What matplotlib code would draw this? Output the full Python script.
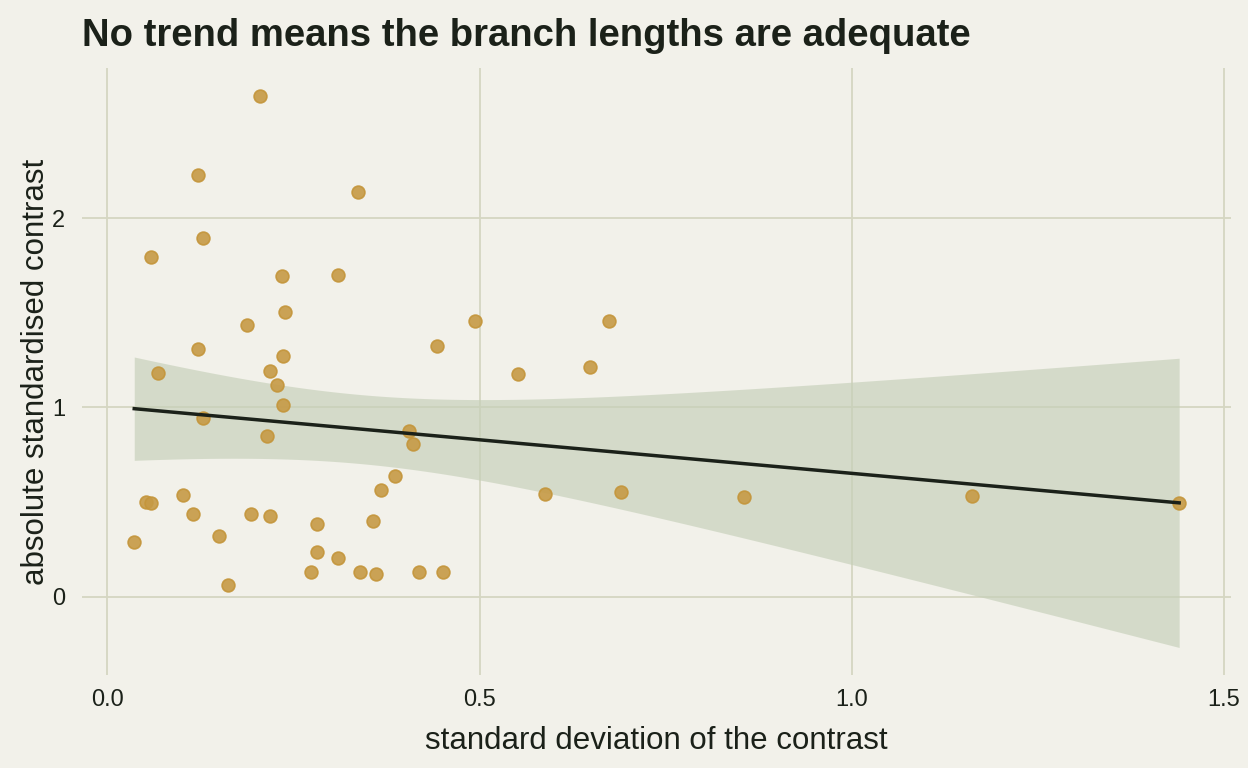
import matplotlib
matplotlib.use("Agg")
import matplotlib.pyplot as plt
import numpy as np

# data
sd_contrast = [0.205, 0.121, 0.337, 0.129, 0.059, 0.235, 0.310, 0.239, 0.494, 0.674,
               0.188, 0.443, 0.121, 0.236, 0.649, 0.068, 0.219, 0.551, 0.228, 0.236,
               0.129, 0.405, 0.215, 0.411, 0.386, 0.368, 0.588, 0.690, 0.855, 1.161,
               1.440, 0.102, 0.052, 0.058, 0.115, 0.193, 0.219, 0.282, 0.357, 0.150,
               0.036, 0.282, 0.310, 0.274, 0.339, 0.361, 0.419, 0.451, 0.162]
abs_contrast = [2.65, 2.23, 2.14, 1.895, 1.795, 1.695, 1.70, 1.507, 1.459, 1.459,
                1.438, 1.323, 1.307, 1.270, 1.213, 1.181, 1.192, 1.176, 1.118, 1.013,
                0.945, 0.877, 0.850, 0.808, 0.640, 0.562, 0.541, 0.551, 0.525, 0.530,
                0.493, 0.535, 0.499, 0.493, 0.436, 0.436, 0.425, 0.383, 0.399, 0.320,
                0.289, 0.236, 0.205, 0.131, 0.131, 0.121, 0.131, 0.131, 0.063]
x_ticks = [0.0, 0.5, 1.0, 1.5]
y_ticks = [0, 1, 2]

x = np.array(sd_contrast)
y = np.array(abs_contrast)

# linear fit with 95% confidence band (like geom_smooth(method="lm"))
n = len(x)
slope, intercept = np.polyfit(x, y, 1)
resid = y - (intercept + slope * x)
s = np.sqrt(np.sum(resid ** 2) / (n - 2))
xs = np.linspace(x.min(), x.max(), 200)
fit = intercept + slope * xs
se = s * np.sqrt(1 / n + (xs - x.mean()) ** 2 / np.sum((x - x.mean()) ** 2))
tval = 2.0117  # t(0.975, df=47)
lo = fit - tval * se
hi = fit + tval * se

bg = "#F2F1EA"
grid_col = "#D5D6C2"
ink = "#1B2119"
plt.rcParams['font.family'] = ['Liberation Sans', 'DejaVu Sans']

fig = plt.figure(figsize=(12.48, 7.68), dpi=100, facecolor=bg)
ax = fig.add_axes([0.0657, 0.121, 0.921, 0.7905])
ax.set_facecolor(bg)

ax.fill_between(xs, lo, hi, color="#C5CFB8", alpha=0.65, lw=0, zorder=2)
ax.scatter(x, y, s=85, color="#C69A45", edgecolor="#C4953A", linewidth=1.2,
           alpha=0.9, zorder=3)
ax.plot(xs, fit, color=ink, lw=2.5, zorder=4)

xr = x.max() - x.min()
ax.set_xlim(x.min() - 0.05 * xr, x.max() + 0.05 * xr)
yr_lo = min(y.min(), lo.min())
yr_hi = max(y.max(), hi.max())
yr = yr_hi - yr_lo
ax.set_ylim(yr_lo - 0.05 * yr, yr_hi + 0.05 * yr)

ax.set_xticks(x_ticks)
ax.set_xticklabels(["0.0", "0.5", "1.0", "1.5"])
ax.set_yticks(y_ticks)
ax.grid(True, color=grid_col, lw=1.3, zorder=0)
ax.set_axisbelow(True)
for sp in ax.spines.values():
    sp.set_visible(False)
ax.tick_params(length=0, labelsize=17, colors=ink)
ax.tick_params(axis="x", pad=10)
ax.tick_params(axis="y", pad=12)

ax.set_xlabel("standard deviation of the contrast", fontsize=22.5, color=ink, labelpad=11)
ax.set_ylabel("absolute standardised contrast", fontsize=22.5, color=ink, labelpad=1)
fig.text(0.0657, 0.953, "No trend means the branch lengths are adequate",
         fontsize=27.5, fontweight="bold", color=ink, va="center", ha="left")

fig.savefig("out.png", dpi=100, facecolor=bg)
